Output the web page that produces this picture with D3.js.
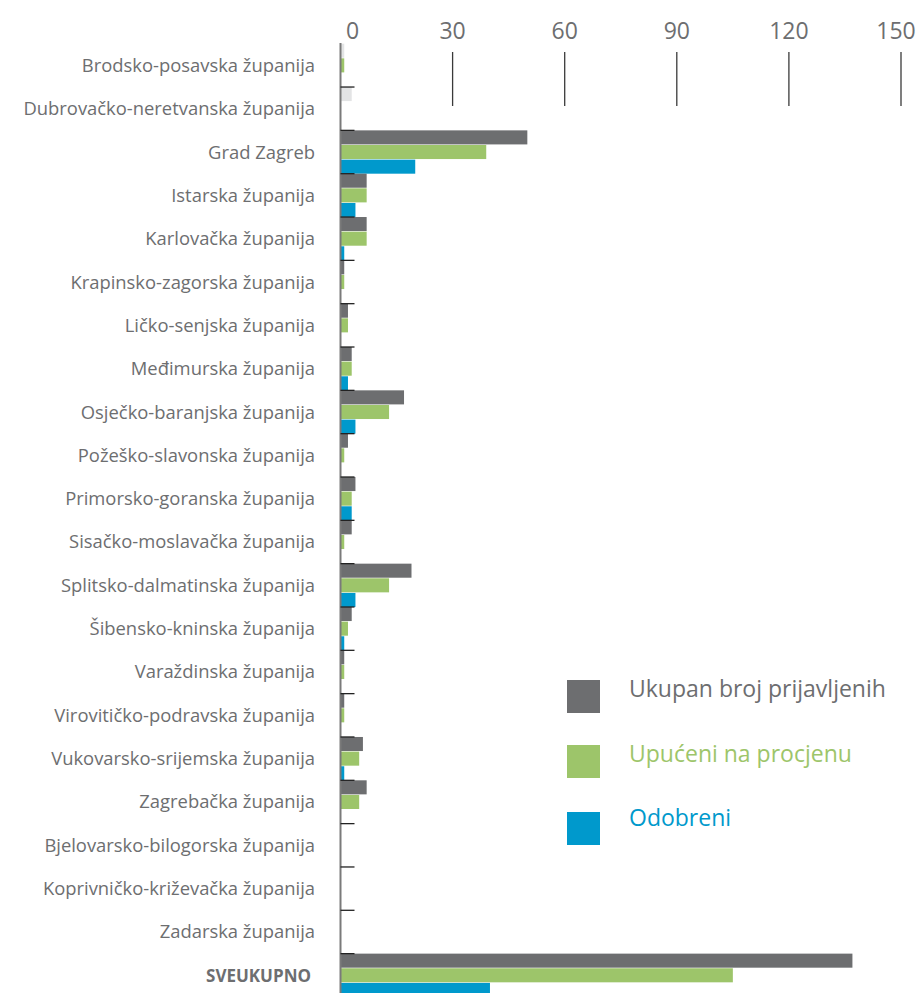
<!DOCTYPE html>
<html>
<head>
<meta charset="utf-8">
<script src="https://cdn.jsdelivr.net/npm/d3@7"></script>
<style>
  html, body { margin: 0; padding: 0; background: #fff; }
  svg { display: block; }
  text { font-family: "Open Sans", "DejaVu Sans", sans-serif; }
</style>
</head>
<body>
<svg id="chart" width="924" height="993"></svg>
<script>
const categories = [
  "Brodsko-posavska županija",
  "Dubrovačko-neretvanska županija",
  "Grad Zagreb",
  "Istarska županija",
  "Karlovačka županija",
  "Krapinsko-zagorska županija",
  "Ličko-senjska županija",
  "Međimurska županija",
  "Osječko-baranjska županija",
  "Požeško-slavonska županija",
  "Primorsko-goranska županija",
  "Sisačko-moslavačka županija",
  "Splitsko-dalmatinska županija",
  "Šibensko-kninska županija",
  "Varaždinska županija",
  "Virovitičko-podravska županija",
  "Vukovarsko-srijemska županija",
  "Zagrebačka županija",
  "Bjelovarsko-bilogorska županija",
  "Koprivničko-križevačka županija",
  "Zadarska županija",
  "SVEUKUPNO"
];
const seriesNames = ["Ukupan broj prijavljenih", "Upućeni na procjenu", "Odobreni"];
const ukupan   = [1, 3, 50, 7, 7, 1, 2, 3, 17, 2, 4, 3, 19, 3, 1, 1, 6, 7, 0, 0, 0, 137];
const upuceni  = [1, 0, 39, 7, 7, 1, 2, 3, 13, 1, 3, 1, 13, 2, 1, 1, 5, 5, 0, 0, 0, 105];
const odobreni = [0, 0, 20, 4, 1, 0, 0, 2, 4, 0, 3, 0, 4, 1, 0, 0, 1, 0, 0, 0, 0, 40];
const xTicks = [0, 30, 60, 90, 120, 150];
const fadedCategories = ["Brodsko-posavska županija", "Dubrovačko-neretvanska županija"];
const totalCategory = "SVEUKUPNO";

const colors = ["#6d6e70", "#9dc56a", "#0099cc"];
const fadedColor = "#e3e4e5";
const textColor = "#6d6e70";

const svg = d3.select("#chart");
const seriesData = [ukupan, upuceni, odobreni];

const x = d3.scaleLinear().domain([0, 150]).range([340.5, 901]);
const y = d3.scaleBand().domain(categories).range([43.7, 43.7 + 22 * 43.33]).paddingInner(0).paddingOuter(0);
const ySub = d3.scaleBand().domain(d3.range(3)).range([0, y.bandwidth()]).paddingInner(0.04).paddingOuter(0);

// top axis labels and tick lines
const axisG = svg.append("g");
axisG.selectAll("line.tick").data(xTicks.filter(d => d > 0)).join("line")
  .attr("x1", d => x(d)).attr("x2", d => x(d))
  .attr("y1", 52).attr("y2", 106)
  .attr("stroke", "#3a3a3a").attr("stroke-width", 1.3);
axisG.selectAll("text").data(xTicks).join("text")
  .attr("x", d => x(d) + (d === 0 ? 12 : d === 150 ? -5 : 0))
  .attr("y", 39)
  .attr("text-anchor", "middle")
  .attr("fill", textColor)
  .attr("font-size", 23)
  .text(d => d);

// bars
const barsG = svg.append("g");
categories.forEach((cat, i) => {
  seriesData.forEach((vals, s) => {
    const v = vals[i];
    if (v <= 0) return;
    let fill = colors[s];
    if (s === 0 && fadedCategories.includes(cat)) fill = fadedColor;
    barsG.append("rect")
      .attr("x", x(0))
      .attr("y", y(cat) + ySub(s))
      .attr("width", x(v) - x(0))
      .attr("height", ySub.bandwidth())
      .attr("fill", fill);
  });
});

// category axis: vertical line and boundary ticks
svg.append("line")
  .attr("x1", x(0)).attr("x2", x(0))
  .attr("y1", 43).attr("y2", 993)
  .attr("stroke", "#7a7a7a").attr("stroke-width", 2);
svg.append("g").selectAll("line").data(categories.slice(1)).join("line")
  .attr("x1", x(0)).attr("x2", x(0) + 14)
  .attr("y1", d => y(d)).attr("y2", d => y(d))
  .attr("stroke", "#222").attr("stroke-width", 1.3);

// category labels
svg.append("g").selectAll("text").data(categories).join("text")
  .attr("x", 315)
  .attr("y", d => y(d) + y.bandwidth() / 2 + 6.5)
  .attr("text-anchor", "end")
  .attr("fill", textColor)
  .attr("font-size", d => d === totalCategory ? 17 : 18.4)
  .attr("font-weight", d => d === totalCategory ? "bold" : "normal")
  .attr("dx", d => d === totalCategory ? -4 : 0)
  .text(d => d);

// legend
const legendY = d3.scaleBand().domain(seriesNames).range([680, 680 + 3 * 65]);
const lg = svg.append("g");
seriesNames.forEach((name, s) => {
  lg.append("rect")
    .attr("x", 567).attr("y", legendY(name) + (s === 2 ? 2 : 0))
    .attr("width", 33).attr("height", 33)
    .attr("fill", colors[s]);
  lg.append("text")
    .attr("x", 629).attr("y", legendY(name) + 17 + (s === 2 ? -1 : 0))
    .attr("fill", colors[s])
    .attr("font-size", 23)
    .text(name);
});
</script>
</body>
</html>
